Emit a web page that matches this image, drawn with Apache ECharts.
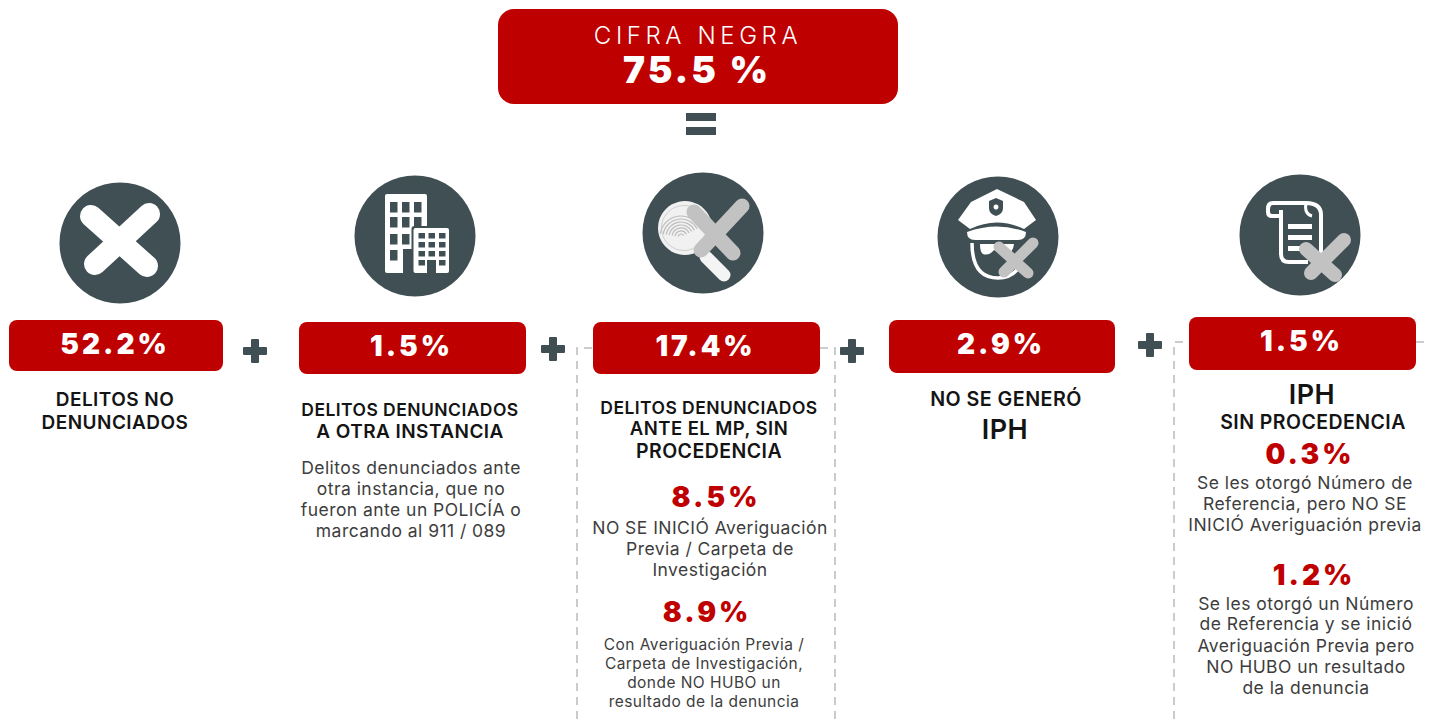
<!DOCTYPE html>
<html>
<head>
<meta charset="utf-8">
<title>Cifra negra</title>
<style>
  html, body { margin: 0; background: #fff; }
  #main { width: 1429px; height: 719px; }
  /* canvas text has no tracking in zrender, so the svg text gets it from css */
  #main text { letter-spacing: .45px; }
  #main text[style*="900"] { letter-spacing: 3px; }
  #main text[style*="300"] { letter-spacing: 4.6px; }
</style>
<script src="https://cdn.jsdelivr.net/npm/echarts@6/dist/echarts.min.js"></script>
</head>
<body>
<div id="main"></div>
<script>
// values
const totalTitle = 'CIFRA NEGRA'
const totalValue = '75.5 %'
const shares = ['52.2%', '1.5%', '17.4%', '2.9%', '1.5%']
const subShares = ['8.5%', '8.9%', '0.3%', '1.2%']

const headings = [
  ['DELITOS NO', 'DENUNCIADOS'],
  ['DELITOS DENUNCIADOS', 'A OTRA INSTANCIA'],
  ['DELITOS DENUNCIADOS', 'ANTE EL MP, SIN', 'PROCEDENCIA'],
  ['NO SE GENERÓ', 'IPH'],
  ['IPH', 'SIN PROCEDENCIA']
]
const otraInstancia = ['Delitos denunciados ante', 'otra instancia, que no', 'fueron ante un POLICÍA o', 'marcando al 911 / 089']
const noIniciada = ['NO SE INICIÓ Averiguación', 'Previa / Carpeta de', 'Investigación']
const sinResultado = ['Con Averiguación Previa /', 'Carpeta de Investigación,', 'donde NO HUBO un', 'resultado de la denuncia']
const conReferencia = ['Se les otorgó Número de', 'Referencia, pero NO SE', 'INICIÓ Averiguación previa']
const iphSinResultado = ['Se les otorgó un Número', 'de Referencia y se inició', 'Averiguación Previa pero', 'NO HUBO un resultado', 'de la denuncia']

// layout
const RED = '#bf0000'
const SLATE = '#3f4f54'
const GREY = '#c2c2c2'
const FONT = 'Inter'
const cards = [[9, 320, 214, 51], [299, 322, 227, 52], [593, 322, 227, 52], [889, 320, 226, 53], [1189, 317, 227, 53]]
const circles = [[120, 243], [415, 236], [703, 233], [998, 237], [1300, 235]]
const pluses = [[255, 351], [553, 349], [852, 351], [1150, 345]]

const els = []
let shapeCount = 0

const text = (str, x, y, size, weight, fill) => els.push({
  type: 'text', x, y,
  style: { text: str, fill, font: `${weight} ${size}px ${FONT}`, textAlign: 'center', textVerticalAlign: 'middle' }
})
const lines = (arr, x, ys, size, weight, fill) => arr.forEach((s, i) => text(s, x, ys[i], size, weight, fill))
const box = (x, y, width, height, r, fill) => els.push({ type: 'rect', shape: { x, y, width, height, r }, style: { fill } })
const stroke = (x1, y1, x2, y2, lineWidth, color) => els.push({
  type: 'line', shape: { x1, y1, x2, y2 }, style: { stroke: color, lineWidth, lineCap: 'round' }
})
// the graphic component has no path type, each svg path becomes a registered shape
const path = (d, style) => {
  const name = 'iconPath' + shapeCount++
  echarts.graphic.registerShape(name, echarts.graphic.extendPath(d))
  els.push({ type: name, style })
}
const dash = (d) => path(d, { fill: 'none', stroke: '#bcbcbc', lineWidth: 1.5, lineDash: [8, 6] })

// dashed frames sit under the cards
dash('M577 719L577 348L593 348')
dash('M820 348L835 348L835 719')
dash('M1174 719L1174 342L1189 342')
dash('M1416 342L1426 342')

// headline box
box(498, 9, 400, 95, 16, RED)
text(totalTitle, 698, 35, 24, 300, '#fff')
text(totalValue, 697, 69, 37, 900, '#fff')
box(686, 113, 30, 8, 0, SLATE)
box(686, 127, 30, 8, 0, SLATE)

circles.forEach(([cx, cy]) => els.push({ type: 'circle', shape: { cx, cy, r: 60.5 }, style: { fill: SLATE } }))

// icon 1, plain cross
stroke(149, 214, 95, 264, 22, '#fff')
stroke(91, 216, 147, 266, 22, '#fff')

// icon 2, buildings
path('M387 194H425Q427 194 427 196V228H413V249H403V273H387Q385 273 385 271V196Q385 194 387 194Z', { fill: '#fff' })
;[390, 402, 414].forEach((x, c) => [202, 217, 234, 250].forEach((y, r) => {
  if (r + c < 4 && !(r === 2 && c === 2)) box(x, y, 7.5, 10.5, 0, SLATE)
}))
box(411.5, 226, 39.5, 49, 3, SLATE)
box(413.5, 228, 35.5, 45, 2, '#fff')
;[418.5, 428.5, 439].forEach(x => [233, 242, 251, 260].forEach(y => box(x, y, 6.5, 5.5, 0, SLATE)))
box(427, 260, 9, 14, 0, SLATE)

// icon 3, magnifier over a fingerprint
stroke(706, 257, 724, 275, 13, '#f4f4f4')
els.push({ type: 'circle', shape: { cx: 685, cy: 228, r: 27 }, style: { fill: '#f1f1f1' } })
els.push({ type: 'circle', shape: { cx: 684, cy: 228, r: 22.5 }, style: { fill: 'none', stroke: '#cfcfcf', lineWidth: 1 } })
;[3, 6, 9, 12, 15, 18, 21].forEach(r => els.push({
  type: 'arc', shape: { cx: 681, cy: 237, r, startAngle: Math.PI * 1.05, endAngle: Math.PI * 1.85 },
  style: { fill: 'none', stroke: '#bdbdbd', lineWidth: 1.2 }
}))
stroke(742, 206, 701, 250, 15, GREY)
stroke(694, 212, 733, 253, 15, GREY)

// icon 4, police face
path('M997 189L1024 202L1036 220L1024 229Q997 216 970 229L958 220L971 202Z', { fill: '#fff' })
path('M967 232Q997 221 1026 232Q1026 240 1018 240H975Q967 240 967 232Z', { fill: '#fff' })
path('M996 198L1003 201V208Q1003 214 996 216Q989 214 989 208V201Z', { fill: SLATE })
els.push({ type: 'circle', shape: { cx: 996, cy: 207, r: 2.5 }, style: { fill: '#fff' } })
path('M972 243Q972 278 998 278Q1015 278 1022 262', { fill: 'none', stroke: '#fff', lineWidth: 3.5 })
path('M980 244H1014Q1013 254 1005 253Q997 252 994 250Q989 256 983 254Q980 252 980 244Z', { fill: '#fff' })
stroke(1033, 243, 1004, 272, 11, GREY)
stroke(999, 247, 1028, 273, 11, GREY)

// icon 5, scroll with lines
path('M1306 203H1273Q1268 203 1268 209V212Q1268 216 1272 216H1281M1306 203Q1321 203 1321 215V260M1281 210V254Q1281 262 1289 262H1308',
  { fill: 'none', stroke: '#fff', lineWidth: 4 })
path('M1306 203Q1304 214 1312 216', { fill: 'none', stroke: '#fff', lineWidth: 3 })
box(1288, 224, 24, 5, 0, '#fff')
box(1288, 235, 24, 5, 0, '#fff')
box(1288, 246, 14, 5, 0, '#fff')
stroke(1344, 240, 1311, 273, 14, GREY)
stroke(1306, 249, 1335, 275, 14, GREY)

// red cards with the five terms
cards.forEach(([x, y, w, h], i) => {
  box(x, y, w, h, 8, RED)
  text(shares[i], x + w / 2 - 1, y + 24, 28, 900, '#fff')
})

pluses.forEach(([x, y]) => {
  box(x - 12, y - 4, 24, 8, 1, SLATE)
  box(x - 4, y - 12, 8, 24, 1, SLATE)
})

const INK = '#141414'
const BODY = '#3d3d3d'
lines(headings[0], 115, [399, 422], 19, 600, INK)
text(headings[1][0], 410, 409, 17.5, 600, INK)
text(headings[1][1], 410, 431, 19, 600, INK)
lines(otraInstancia, 411, [467, 488, 509, 530], 17.5, 400, BODY)
text(headings[2][0], 709, 407, 17.5, 600, INK)
text(headings[2][1], 709, 428, 18.5, 600, INK)
text(headings[2][2], 709, 451, 19.5, 600, INK)
text(subShares[0], 716, 497, 28, 900, RED)
lines(noIniciada, 710, [527, 548, 569], 17.5, 400, BODY)
text(subShares[1], 707, 612, 28, 900, RED)
lines(sinResultado, 704, [644, 663, 682, 701], 15.5, 400, BODY)
text(headings[3][0], 1006, 399, 19.7, 600, INK)
text(headings[3][1], 1005, 429, 27, 600, INK)
text(headings[4][0], 1312, 394, 27, 600, INK)
text(headings[4][1], 1313, 422, 19.5, 600, INK)
text(subShares[2], 1310, 454, 28, 900, RED)
lines(conReferencia, 1305, [482, 503, 524], 17.5, 400, BODY)
text(subShares[3], 1314, 575, 28, 900, RED)
lines(iphSinResultado, 1306, [603, 623, 645, 666, 687], 17.5, 400, BODY)

const chart = echarts.init(document.getElementById('main'), null, { renderer: 'svg' })
chart.setOption({
  backgroundColor: '#ffffff',
  animation: false,
  graphic: { elements: els }
})
</script>
</body>
</html>
